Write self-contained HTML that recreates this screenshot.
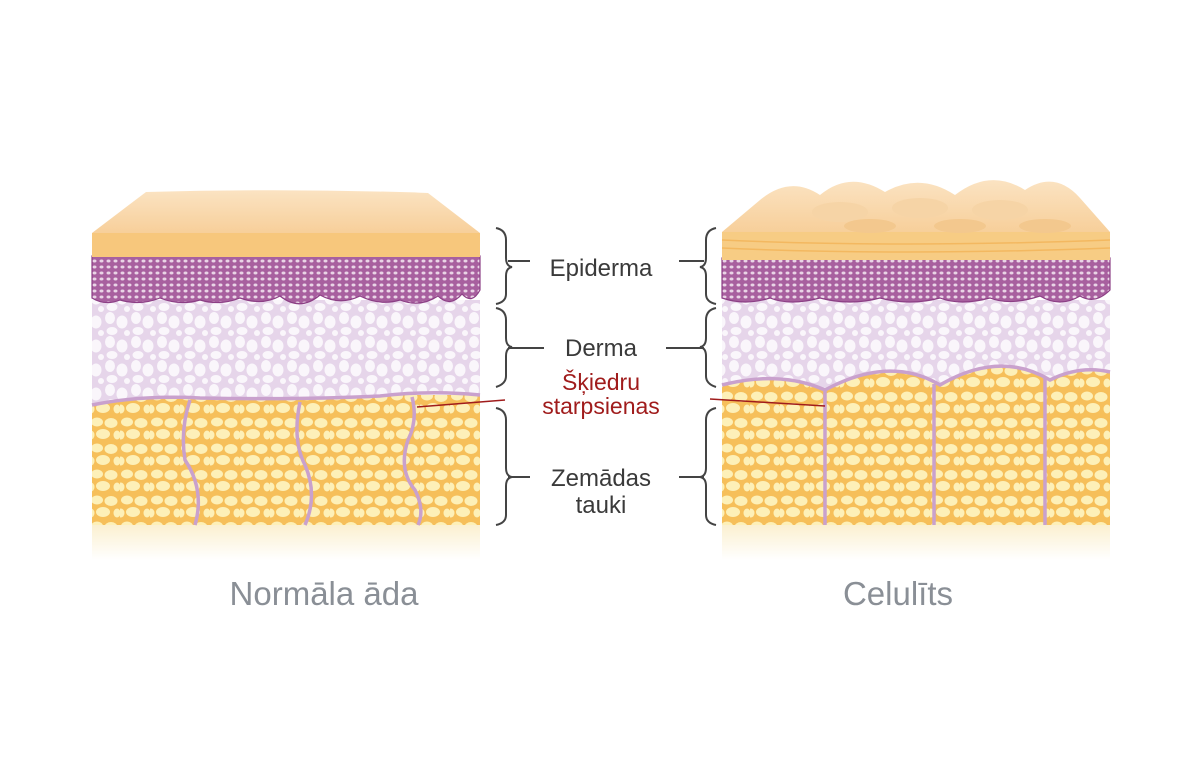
<!DOCTYPE html>
<html><head><meta charset="utf-8"><style>
html,body{margin:0;padding:0;background:#fff;}
svg{display:block}
</style></head><body>
<svg width="1200" height="758" viewBox="0 0 1200 758" xmlns="http://www.w3.org/2000/svg">
<defs>
<pattern id="fat" width="30" height="26" patternUnits="userSpaceOnUse">
<rect width="30" height="26" fill="#f6bf5a"/>
<ellipse cx="7" cy="6" rx="6" ry="4.5" fill="#fdf0b8"/>
<ellipse cx="21" cy="7" rx="6.5" ry="5" fill="#fdf0b8"/>
<ellipse cx="13" cy="18" rx="7" ry="5" fill="#fdf0b8"/>
<ellipse cx="27" cy="19" rx="3.5" ry="4.5" fill="#fdf0b8"/>
<ellipse cx="1" cy="19" rx="3.5" ry="4.5" fill="#fdf0b8"/>
</pattern>
<pattern id="derm" width="26" height="24" patternUnits="userSpaceOnUse">
<rect width="26" height="24" fill="#e6d5ea"/>
<ellipse cx="6" cy="6" rx="5" ry="6" fill="#faf6fb"/>
<ellipse cx="18" cy="10" rx="5.5" ry="6.5" fill="#faf6fb"/>
<ellipse cx="8" cy="19" rx="5.5" ry="4" fill="#faf6fb"/>
<ellipse cx="23" cy="21" rx="3" ry="3" fill="#faf6fb"/>
</pattern>
<pattern id="epi" width="7" height="6" patternUnits="userSpaceOnUse">
<rect width="7" height="6" fill="#a8609f"/>
<ellipse cx="3.5" cy="3" rx="2" ry="1.5" fill="#e9d4e6"/>
</pattern>
<linearGradient id="fade" x1="0" y1="0" x2="0" y2="1">
<stop offset="0" stop-color="#fbf0d0"/><stop offset="1" stop-color="#fff"/>
</linearGradient>
<linearGradient id="topg" x1="0" y1="0" x2="0" y2="1">
<stop offset="0" stop-color="#fbe3c2"/><stop offset="1" stop-color="#f7cf9a"/>
</linearGradient>
</defs>

<!-- LEFT BLOCK -->
<rect x="92" y="525" width="388" height="35" fill="url(#fade)"/>
<rect x="92" y="395" width="388" height="130" fill="url(#fat)"/>
<path d="M92,300 L480,300 L480,395 Q430,390 380,396 Q300,400 200,398 Q140,395 92,405 Z" fill="url(#derm)"/>
<path d="M92,256 L480,256 L480,290 Q472,305 462,294 Q450,308 438,296 Q420,308 400,300 Q380,306 360,296 Q340,306 320,295 Q300,312 280,296 Q262,306 240,298 Q220,306 200,300 Q180,306 160,298 Q140,306 120,300 Q105,306 92,298 Z" fill="url(#epi)" stroke="#8c3f85" stroke-width="1.2"/>
<path d="M146,192 Q290,188 428,193 L480,233 L92,233 Z" fill="url(#topg)"/>
<rect x="92" y="233" width="388" height="24" fill="#f7c77c"/>
<path d="M92,405 Q140,395 200,398 Q300,400 380,396 Q430,390 480,395" fill="none" stroke="#c9a1cd" stroke-width="3.5"/>
<path d="M190,400 Q180,430 185,460 Q205,490 195,525" fill="none" stroke="#c9a1cd" stroke-width="3.5"/>
<path d="M300,402 Q292,440 305,465 Q318,495 305,525" fill="none" stroke="#c9a1cd" stroke-width="3.5"/>
<path d="M412,397 Q418,420 408,440 Q398,470 415,490 Q425,510 418,525" fill="none" stroke="#c9a1cd" stroke-width="3.5"/>
<line x1="417" y1="407" x2="505" y2="400" stroke="#a01c1c" stroke-width="1.5"/>

<!-- RIGHT BLOCK -->
<rect x="722" y="525" width="388" height="35" fill="url(#fade)"/>
<rect x="722" y="360" width="388" height="165" fill="url(#fat)"/>
<path d="M722,300 L1110,300 L1110,372 Q1080,365 1050,380 Q1000,350 940,385 Q890,355 825,390 Q780,370 722,385 Z" fill="url(#derm)"/>
<path d="M1110,372 Q1080,365 1050,380 Q1000,350 940,385 Q890,355 825,390 Q780,370 722,385" fill="none" stroke="#c9a1cd" stroke-width="3.5"/>
<path d="M722,258 L1110,258 L1110,290 Q1095,305 1080,296 Q1060,308 1040,296 Q1010,306 990,298 Q960,306 940,298 Q910,306 880,298 Q850,306 820,298 Q790,306 770,298 Q745,306 722,298 Z" fill="url(#epi)" stroke="#8c3f85" stroke-width="1.2"/>
<rect x="722" y="232" width="388" height="28" fill="#f7cc84"/>
<path d="M722,240 Q900,248 1110,240 M722,248 Q900,256 1110,248" stroke="#f3b860" stroke-width="1.5" fill="none"/>
<path d="M722,232 L760,200 Q790,175 820,195 Q850,170 885,192 Q920,172 955,195 Q990,168 1025,190 Q1055,170 1080,198 L1110,232 Z" fill="url(#topg)"/>
<ellipse cx="840" cy="212" rx="28" ry="10" fill="#f6d4a6"/>
<ellipse cx="920" cy="208" rx="28" ry="10" fill="#f6d4a6"/>
<ellipse cx="1000" cy="210" rx="28" ry="10" fill="#f6d4a6"/>
<ellipse cx="870" cy="226" rx="26" ry="7" fill="#f3c88e"/>
<ellipse cx="960" cy="226" rx="26" ry="7" fill="#f3c88e"/>
<ellipse cx="1045" cy="226" rx="26" ry="7" fill="#f3c88e"/>
<line x1="825" y1="390" x2="825" y2="525" stroke="#c9a1cd" stroke-width="3.5"/>
<line x1="934" y1="384" x2="934" y2="525" stroke="#c9a1cd" stroke-width="3.5"/>
<line x1="1045" y1="378" x2="1045" y2="525" stroke="#c9a1cd" stroke-width="3.5"/>
<line x1="710" y1="399" x2="825" y2="406" stroke="#a01c1c" stroke-width="1.5"/>

<!-- BRACKETS -->
<g fill="none" stroke="#444" stroke-width="2">
<path d="M496,228 Q506,230 506,240 L506,258 Q506,266 512,267 Q506,268 506,276 L506,294 Q506,302 496,304"/>
<path d="M496,308 Q506,310 506,320 L506,338 Q506,346 512,347 Q506,348 506,356 L506,376 Q506,384 496,387"/>
<path d="M496,408 Q506,410 506,420 L506,468 Q506,476 512,477 Q506,478 506,486 L506,515 Q506,523 496,525"/>
<path d="M716,228 Q706,230 706,240 L706,258 Q706,266 700,267 Q706,268 706,276 L706,294 Q706,302 716,304"/>
<path d="M716,308 Q706,310 706,320 L706,338 Q706,346 700,347 Q706,348 706,356 L706,376 Q706,384 716,387"/>
<path d="M716,408 Q706,410 706,420 L706,468 Q706,476 700,477 Q706,478 706,486 L706,515 Q706,523 716,525"/>
<line x1="508" y1="261" x2="530" y2="261"/><line x1="679" y1="261" x2="704" y2="261"/>
<line x1="508" y1="348" x2="544" y2="348"/><line x1="666" y1="348" x2="704" y2="348"/>
<line x1="508" y1="477" x2="530" y2="477"/><line x1="679" y1="477" x2="704" y2="477"/>
</g>

<g font-family="Liberation Sans, sans-serif" text-anchor="middle">
<text x="601" y="276" font-size="24" fill="#3a3a3a">Epiderma</text>
<text x="601" y="356" font-size="24" fill="#3a3a3a">Derma</text>
<text x="601" y="390" font-size="23" fill="#a01c1c">Šķiedru</text>
<text x="601" y="414" font-size="23" fill="#a01c1c">starpsienas</text>
<text x="601" y="486" font-size="24" fill="#3a3a3a">Zemādas</text>
<text x="601" y="513" font-size="24" fill="#3a3a3a">tauki</text>
<text x="324" y="605" font-size="33" fill="#8a8f96">Normāla āda</text>
<text x="898" y="605" font-size="33" fill="#8a8f96">Celulīts</text>
</g>
</svg>
</body></html>
